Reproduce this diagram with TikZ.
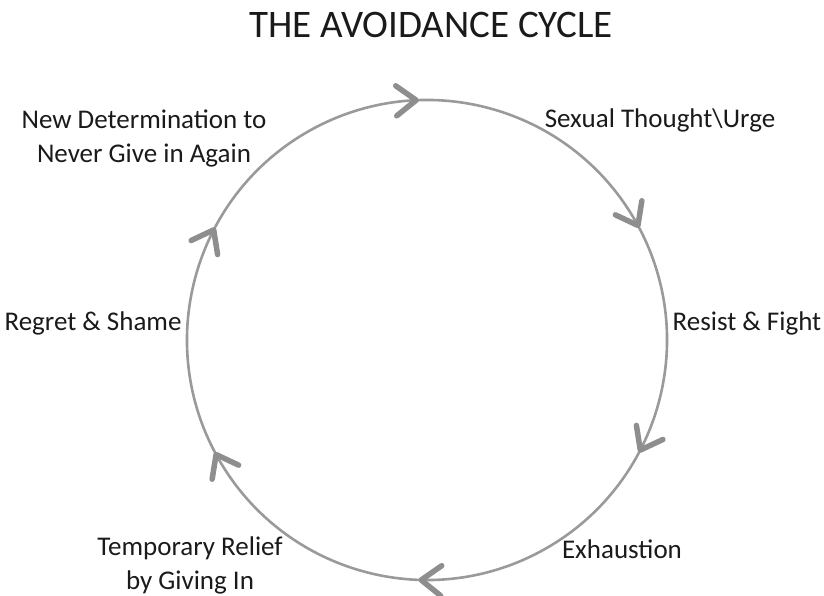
\documentclass[tikz,border=0pt]{standalone}
\usepackage{fontspec}
\setmainfont{Carlito}
\usetikzlibrary{arrows.meta,decorations.markings}
\definecolor{ringgray}{HTML}{9A9A9A}
\definecolor{tipgray}{HTML}{8E8E8E}
\definecolor{inkblack}{HTML}{1A1A1A}
\tikzset{
  chev/.tip={Straight Barb[length=20pt,width=30pt,line width=5.5pt,round,color=tipgray]},
  steplabel/.style={text=inkblack,font=\fontsize{27}{34}\selectfont,align=center,inner sep=0pt},
}

\begin{document}
\begin{tikzpicture}[x=1pt,y=1pt]
			%%%%% START %%%%%
			
			\useasboundingbox (0,0) rectangle (824,596);
			
			\node[text=inkblack,font=\fontsize{39}{44}\selectfont,inner sep=0pt] (title) at (431,571) {THE AVOIDANCE CYCLE};
			
			\coordinate (hub) at (427,256);
			\draw[ringgray, line width=2.6pt, postaction={decorate}, decoration={markings,
				mark=at position 0.078 with {\arrow{chev}},
				mark=at position 0.256 with {\arrow{chev}},
				mark=at position 0.411 with {\arrow{chev}},
				mark=at position 0.589 with {\arrow{chev}},
				mark=at position 0.756 with {\arrow{chev}},
				mark=at position 0.911 with {\arrow{chev}}}]
				(hub) ++(120:240) arc[start angle=120, end angle=-240, radius=240];
			
			\node[steplabel] (urge) at (660,476) {Sexual Thought\textbackslash Urge};
			\node[steplabel] (resist) at (747,273) {Resist \& Fight};
			\node[steplabel] (exhaust) at (622,47) {Exhaustion};
			\node[steplabel] (relief) at (190,31) {Temporary Relief\\by Giving In};
			\node[steplabel] (regret) at (93,273) {Regret \& Shame};
			\node[steplabel] (resolve) at (144,458) {New Determination to\\Never Give in Again};
			
			%%%%% END %%%%%
		\end{tikzpicture}
\end{document}
